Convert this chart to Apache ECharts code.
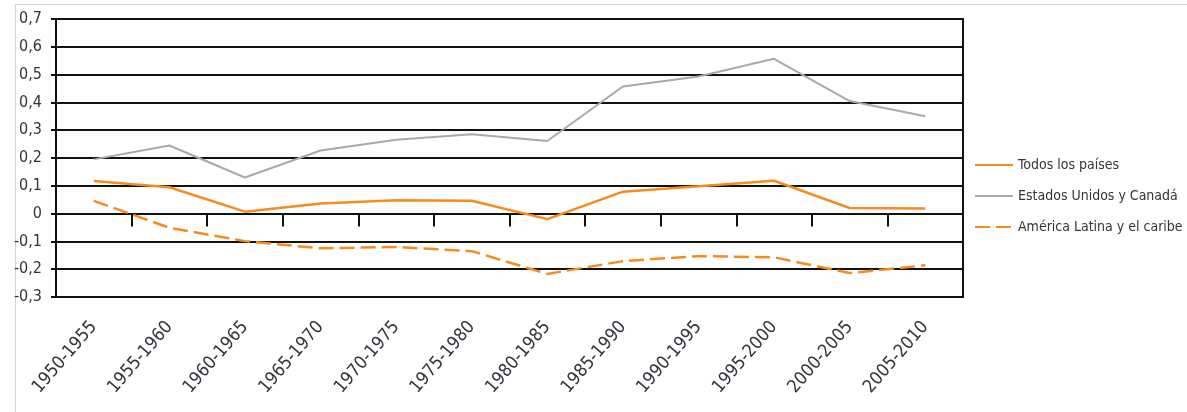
<!DOCTYPE html>
<html>
<head>
<meta charset="utf-8">
<title>Tasa de crecimiento por quinquenio</title>
<script src="https://cdn.jsdelivr.net/npm/echarts@6/dist/echarts.min.js"></script>
<style>
  html, body { margin: 0; padding: 0; background: #ffffff; }
  #chart { width: 1187px; height: 412px; }
</style>
</head>
<body>
<div id="chart"></div>
<script>
// Five-year periods on the category axis
const periods = [
  '1950-1955', '1955-1960', '1960-1965', '1965-1970', '1970-1975', '1975-1980',
  '1980-1985', '1985-1990', '1990-1995', '1995-2000', '2000-2005', '2005-2010'
];

// Series values per period
const todosLosPaises = [0.117, 0.095, 0.007, 0.036, 0.048, 0.046, -0.020, 0.079, 0.098, 0.118, 0.020, 0.018];
const estadosUnidosCanada = [0.195, 0.245, 0.130, 0.227, 0.266, 0.285, 0.261, 0.457, 0.493, 0.557, 0.405, 0.350];
const americaLatinaCaribe = [0.046, -0.051, -0.099, -0.125, -0.120, -0.135, -0.217, -0.171, -0.153, -0.157, -0.214, -0.186];

const seriesNames = ['Todos los países', 'Estados Unidos y Canadá', 'América Latina y el caribe'];

// Value axis range and step
const yMin = -0.3;
const yMax = 0.7;
const yStep = 0.1;

const ORANGE = '#f68b1f';
const GRAY = '#a9a9a9';
const INK = '#111111';
const TEXT = '#33343c';
const FONT = '"DejaVu Sans Condensed", "DejaVu Sans", sans-serif';

function decimalComma(v) {
  const r = Math.round(v * 10) / 10;
  if (r === 0) return '0';
  return r.toFixed(1).replace('.', ',');
}

const chart = echarts.init(document.getElementById('chart'), null, { renderer: 'canvas' });

chart.setOption({
  animation: false,
  backgroundColor: '#ffffff',
  graphic: [
    // thin light frame around the figure
    { type: 'line', shape: { x1: 15, y1: 4.5, x2: 1187, y2: 4.5 }, style: { stroke: '#d4d4d4', lineWidth: 1 }, silent: true },
    { type: 'line', shape: { x1: 15.5, y1: 4, x2: 15.5, y2: 412 }, style: { stroke: '#d4d4d4', lineWidth: 1 }, silent: true }
  ],
  grid: {
    left: 56, right: 224, top: 19, bottom: 115,
    show: true, borderColor: INK, borderWidth: 2, backgroundColor: 'transparent'
  },
  legend: {
    orient: 'vertical',
    left: 974, top: 158, padding: 0,
    itemWidth: 38, itemHeight: 14, itemGap: 17,
    itemStyle: { opacity: 0 },
    textStyle: { fontFamily: FONT, fontSize: 14, color: TEXT },
    data: seriesNames
  },
  xAxis: [
    {
      // axis through zero carrying the period tick marks
      type: 'category',
      data: periods,
      position: 'bottom',
      boundaryGap: true,
      axisLine: { onZero: true, lineStyle: { color: INK, width: 2 } },
      axisTick: { show: true, length: 13, interval: 0, lineStyle: { color: INK, width: 2 } },
      axisLabel: { show: false },
      splitLine: { show: false }
    },
    {
      // labels along the bottom edge
      type: 'category',
      data: periods,
      position: 'bottom',
      boundaryGap: true,
      axisLine: { show: false, onZero: false },
      axisTick: { show: false },
      axisLabel: {
        show: true, interval: 0, rotate: 49, margin: 27,
        fontFamily: FONT, fontSize: 18, color: TEXT
      },
      splitLine: { show: false }
    }
  ],
  yAxis: {
    type: 'value',
    min: yMin, max: yMax, interval: yStep,
    axisLine: { show: true, lineStyle: { color: INK, width: 2 } },
    axisTick: { show: true, length: 5, lineStyle: { color: INK, width: 2 } },
    axisLabel: {
      margin: 14, fontFamily: FONT, fontSize: 16, color: TEXT,
      formatter: decimalComma
    },
    splitLine: { show: true, lineStyle: { color: INK, width: 2 } }
  },
  series: [
    {
      name: seriesNames[0], type: 'line', xAxisIndex: 0, data: todosLosPaises,
      symbol: 'none', color: ORANGE,
      lineStyle: { color: ORANGE, width: 2.5 }
    },
    {
      name: seriesNames[1], type: 'line', xAxisIndex: 0, data: estadosUnidosCanada,
      symbol: 'none', color: GRAY,
      lineStyle: { color: GRAY, width: 2 }
    },
    {
      name: seriesNames[2], type: 'line', xAxisIndex: 0, data: americaLatinaCaribe,
      symbol: 'none', color: ORANGE,
      lineStyle: { color: ORANGE, width: 2.5, type: [15, 6] }
    }
  ]
});
</script>
</body>
</html>
